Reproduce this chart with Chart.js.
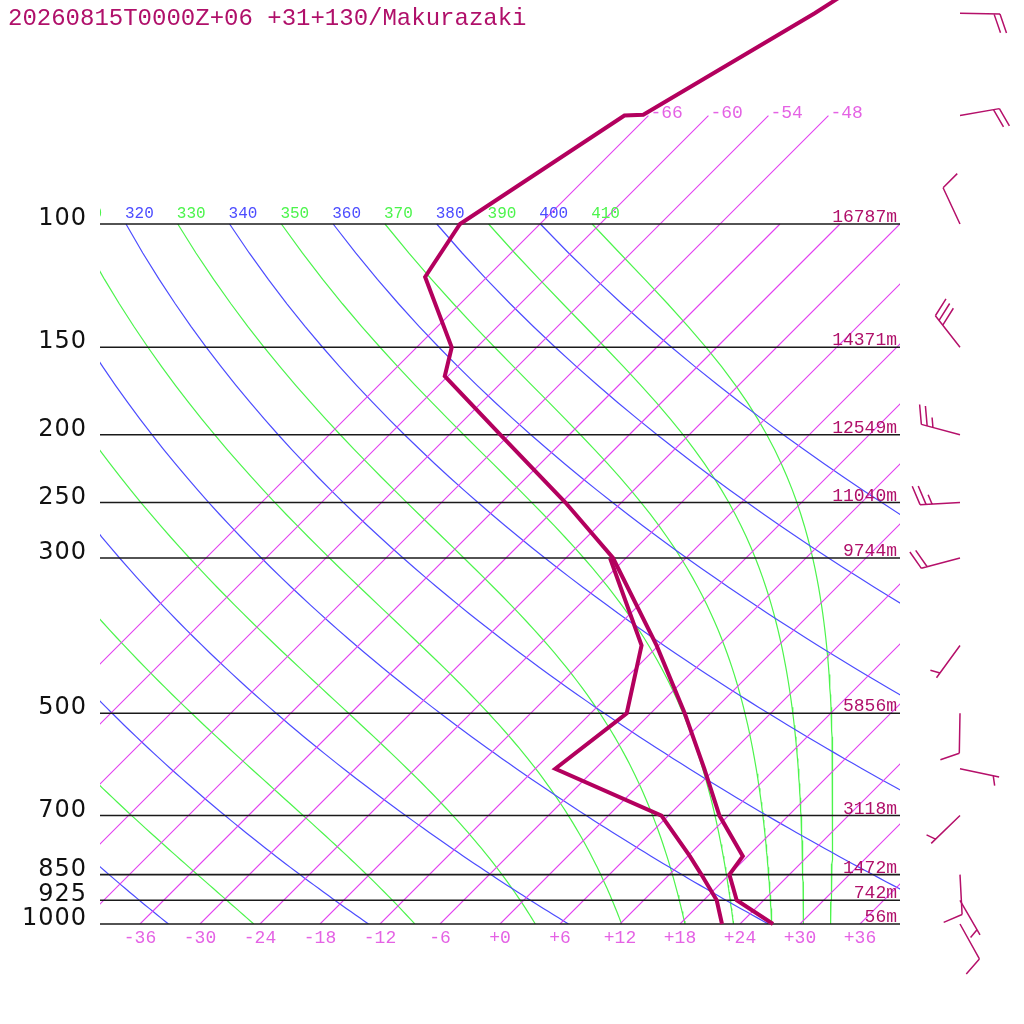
<!DOCTYPE html>
<html>
<head>
<meta charset="utf-8">
<script src="https://cdn.jsdelivr.net/npm/chart.js@4.4.1/dist/chart.umd.min.js"></script>
<style>
  html, body { margin: 0; padding: 0; background: #fff; }
  #wrap { width: 1024px; height: 1024px; }
</style>
</head>
<body>
<div id="wrap"><canvas id="skewt" width="1024" height="1024"></canvas></div>
<script>
const title = "20260815T0000Z+06 +31+130/Makurazaki";

// sounding (hPa, degC)
const levels = [1000, 925, 850, 800, 700, 600, 500, 400, 300, 250, 200, 165, 150, 119, 100, 70, 69.8, 50, 30];
const tempC = [27.3, 21.3, 18.0, 17.5, 11.1, 4.9, -2.6, -12.2, -25.3, -35.6, -48.9, -60.3, -62.5, -72.2, -74.0, -68.4, -66.6, -59.6, -51.0];
const dewLevels = [1000, 925, 850, 800, 700, 600, 500, 400, 300];
const dewC = [22.2, 19.3, 15.2, 12.2, 5.3, -10.0, -8.4, -13.7, -25.6];

// winds (hPa, direction deg, knots)
const windP = [1000, 925, 850, 700, 600, 500, 400, 300, 250, 200, 150, 100, 70, 50];
const windDir = [151, 150, 177, 226, 102, 181, 216, 255, 267, 285, 322, 335, 80, 91];
const windKt = [10, 5, 10, 5, 5, 10, 5, 20, 25, 25, 30, 10, 20, 20];

// isobars and their heights
const isobarP = [1000, 925, 850, 700, 500, 300, 250, 200, 150, 100];
const isobarLabels = ["1000", "925", "850", "700", "500", "300", "250", "200", "150", "100"];
const heightLabels = ["56m", "742m", "1472m", "3118m", "5856m", "9744m", "11040m", "12549m", "14371m", "16787m"];

// diagram frame
const isothermC = [-66, -60, -54, -48, -42, -36, -30, -24, -18, -12, -6, 0, 6, 12, 18, 24, 30, 36];
const upperIsotherms = [-66, -60, -54, -48];
const tempTicks = [-36, -30, -24, -18, -12, -6, 0, 6, 12, 18, 24, 30, 36];
const tempTickLabels = ["-36", "-30", "-24", "-18", "-12", "-6", "+0", "+6", "+12", "+18", "+24", "+30", "+36"];
const thetaK = [240, 260, 280, 300, 320, 340, 360, 380, 400];
const thetaEK = [250, 270, 290, 310, 330, 350, 370, 390, 410];

const P_TOP = 1000 / Math.pow(10, 924 / 700);
const KAPPA = 0.2857;
const ISOTHERM = "rgb(226, 64, 240)";
const DRY = "rgb(76, 76, 255)";
const MOIST = "rgb(76, 244, 76)";

function skew(t, p) { return t + 70 * Math.log10(1000 / p); }

function dryCurve(th) {
    const pts = [];
    for (let p = 1000; p >= 100; p -= 10) {
        pts.push({ x: skew(th * Math.pow(p / 1000, KAPPA) - 273.15, p), y: p });
    }
    return pts;
}

function moistRate(p, T) {
    const Rd = 287.04, cp = 1005.7, Lv = 2.501e6, eps = 0.622;
    const tc = T - 273.15;
    const es = 6.112 * Math.exp(17.67 * tc / (tc + 243.5));
    const rs = eps * es / (p - es);
    return (Rd * T + Lv * rs) / (p * (cp + Lv * Lv * rs * eps / (Rd * T * T)));
}

// pseudo-adiabat, from its value at 100 hPa down to the ground
function moistCurve(the) {
    let T = the * Math.pow(0.1, KAPPA);
    const pts = [{ x: skew(T - 273.15, 100), y: 100 }];
    const dp = 1;
    for (let p = 100; p < 1000; p += dp) {
        const k1 = moistRate(p, T);
        const k2 = moistRate(p + dp / 2, T + k1 * dp / 2);
        const k3 = moistRate(p + dp / 2, T + k2 * dp / 2);
        const k4 = moistRate(p + dp, T + k3 * dp);
        T += dp * (k1 + 2 * k2 + 2 * k3 + k4) / 6;
        if ((p + dp) % 10 === 0) pts.push({ x: skew(T - 273.15, p + dp), y: p + dp });
    }
    return pts;
}

function line(data, color, width, clip) {
    return {
        type: "line", data: data, borderColor: color, backgroundColor: color,
        borderWidth: width, pointRadius: 0, tension: 0, fill: false, clip: clip
    };
}

const datasets = [];
datasets.push(line(levels.map((p, i) => ({ x: skew(tempC[i], p), y: p })), "#b3005e", 4, 4));
datasets.push(line(dewLevels.map((p, i) => ({ x: skew(dewC[i], p), y: p })), "#b3005e", 4, 4));
isobarP.forEach(p => datasets.push(line([{ x: -40, y: p }, { x: 40, y: p }], "#1a1a1a", 1.6, 2)));
isothermC.forEach(t => {
    const top = upperIsotherms.includes(t) ? 70 : 100;
    datasets.push(line([{ x: skew(t, 1000), y: 1000 }, { x: skew(t, top), y: top }], ISOTHERM, 1.1, 0));
});
thetaK.forEach(th => datasets.push(line(dryCurve(th), DRY, 1.2, 0)));
thetaEK.forEach(th => datasets.push(line(moistCurve(th), MOIST, 1.2, 0)));

function drawBarb(ctx, x, y, dir, kt) {
    const r = dir * Math.PI / 180;
    const ux = Math.sin(r), uy = -Math.cos(r);
    const tx = x + ux * 40, ty = y + uy * 40;
    const a = Math.atan2(uy, ux) + 70 * Math.PI / 180;
    const bx = Math.cos(a), by = Math.sin(a);
    ctx.beginPath();
    ctx.moveTo(x, y);
    ctx.lineTo(tx, ty);
    const n = Math.round(kt / 5);
    const full = Math.floor(n / 2), half = n % 2;
    let pos = 0;
    for (let i = 0; i < full; i++) {
        const px = tx - ux * pos, py = ty - uy * pos;
        ctx.moveTo(px, py);
        ctx.lineTo(px + bx * 20, py + by * 20);
        pos += 6;
    }
    if (half) {
        if (full === 0) pos = 6;
        const px = tx - ux * pos, py = ty - uy * pos;
        ctx.moveTo(px, py);
        ctx.lineTo(px + bx * 10, py + by * 10);
    }
    ctx.stroke();
}

const labelsPlugin = {
    id: "skewLabels",
    afterDraw(chart) {
        const ctx = chart.ctx;
        const xs = chart.scales.x, ys = chart.scales.y;
        const area = chart.chartArea;
        ctx.save();

        ctx.fillStyle = "#b0106a";
        ctx.font = '24px "Liberation Mono", monospace';
        ctx.textAlign = "left";
        ctx.textBaseline = "alphabetic";
        ctx.fillText(title, 8, 25);

        // pressure labels
        ctx.fillStyle = "#111";
        ctx.font = '24px "DejaVu Sans", sans-serif';
        ctx.letterSpacing = "1px";
        ctx.textAlign = "right";
        isobarP.forEach((p, i) => ctx.fillText(isobarLabels[i], 87, ys.getPixelForValue(p) + 1));
        ctx.letterSpacing = "0px";

        // heights
        ctx.fillStyle = "#b0106a";
        ctx.font = '18px "Liberation Mono", monospace';
        isobarP.forEach((p, i) => ctx.fillText(heightLabels[i], 897, ys.getPixelForValue(p) - 2));

        // temperature ticks
        ctx.fillStyle = "#e462e4";
        ctx.textAlign = "center";
        tempTicks.forEach((t, i) => ctx.fillText(tempTickLabels[i], xs.getPixelForValue(t), 943));

        // isotherm labels above 100 hPa
        ctx.textAlign = "left";
        upperIsotherms.forEach(t => {
            ctx.fillText(String(t), xs.getPixelForValue(skew(t, 70)) + 2, ys.getPixelForValue(70) + 2);
        });

        // adiabat labels on 100 hPa, clipped to the plot
        ctx.save();
        ctx.beginPath();
        ctx.rect(area.left, 0, area.right - area.left, area.bottom);
        ctx.clip();
        ctx.font = '16px "Liberation Mono", monospace';
        const y100 = ys.getPixelForValue(100) - 6;
        thetaK.forEach(th => {
            ctx.fillStyle = DRY;
            ctx.fillText(String(th), xs.getPixelForValue(skew(th * Math.pow(0.1, KAPPA) - 273.15, 100)) - 1, y100);
        });
        thetaEK.forEach(th => {
            ctx.fillStyle = MOIST;
            ctx.fillText(String(th), xs.getPixelForValue(skew(th * Math.pow(0.1, KAPPA) - 273.15, 100)) - 1, y100);
        });
        ctx.restore();

        // wind barbs
        ctx.strokeStyle = "#b5106a";
        ctx.lineWidth = 1.5;
        windP.forEach((p, i) => drawBarb(ctx, 960, ys.getPixelForValue(p), windDir[i], windKt[i]));
        ctx.restore();
    }
};

new Chart(document.getElementById("skewt"), {
    type: "scatter",
    data: { datasets: datasets },
    options: {
        responsive: false,
        animation: false,
        devicePixelRatio: 1,
        layout: { padding: { left: 100, right: 124, top: 0, bottom: 100 } },
        plugins: { legend: { display: false }, tooltip: { enabled: false } },
        scales: {
            x: { type: "linear", min: -40, max: 40, bounds: "data", display: false },
            y: { type: "logarithmic", min: P_TOP, max: 1000, reverse: true, bounds: "data", display: false }
        }
    },
    plugins: [labelsPlugin]
});
</script>
</body>
</html>
